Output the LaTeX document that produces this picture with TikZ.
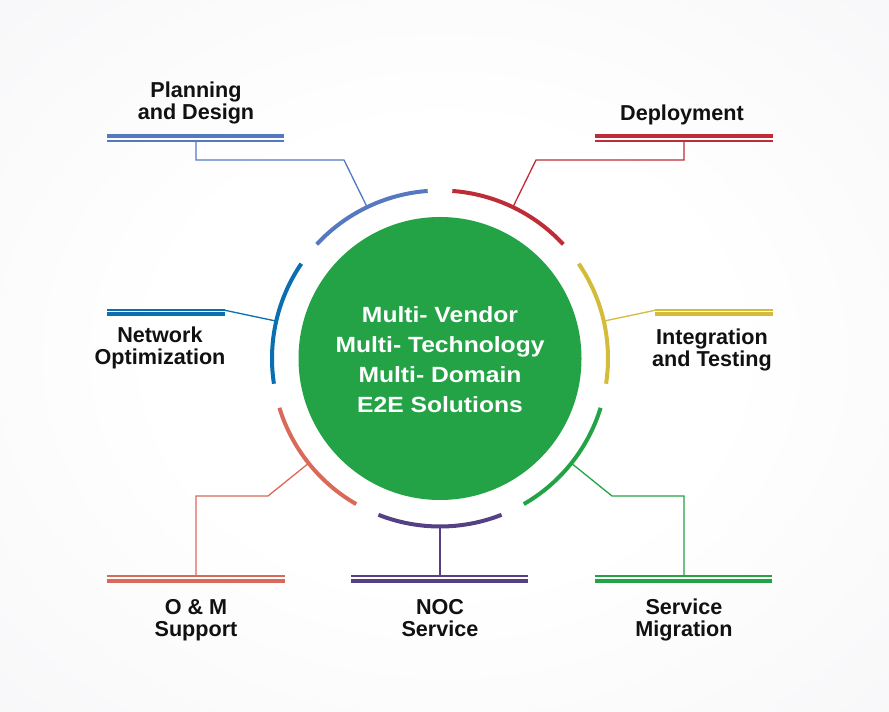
\documentclass[tikz,border=0pt]{standalone}
\usepackage{fontspec}
\setmainfont{Liberation Sans}
\newfontfamily\widefont[FakeStretch=1.12]{Liberation Sans}
\usetikzlibrary{calc}
\definecolor{bgedge}{RGB}{234,234,238}
\definecolor{bgmid}{RGB}{246,246,248}
\definecolor{cblue}{RGB}{84,121,190}
\definecolor{cred}{RGB}{190,45,55}
\definecolor{cyellow}{RGB}{212,188,58}
\definecolor{cnavy}{RGB}{10,110,176}
\definecolor{csalmon}{RGB}{217,106,90}
\definecolor{cpurple}{RGB}{84,64,130}
\definecolor{cgreen}{RGB}{35,163,69}
\definecolor{txt}{RGB}{17,17,17}
\pgfdeclareradialshading{bgshade}{\pgfpoint{0bp}{0bp}}{color(0bp)=(white); color(16bp)=(white); color(40bp)=(bgmid); color(72bp)=(bgedge)}
\begin{document}
\begin{tikzpicture}[x=1pt,y=1pt,
  arcseg/.style={line width=4pt},
  link/.style={line width=1.3pt},
  barthick/.style={line width=4pt},
  barthin/.style={line width=2pt},
  sidethick/.style={line width=3.6pt},
  sidethin/.style={line width=2.2pt},
  lbl/.style={font=\fontsize{21.6}{22.4}\selectfont\bfseries, text=txt, align=center, anchor=base, inner sep=0pt},
]
\useasboundingbox (0,0) rectangle (889,712);
\shade[shading=bgshade] (0,0) rectangle (889,712);

% central disc with the headline text
\coordinate (C) at (440,353.5);
\node[circle, fill=cgreen, minimum size=283pt, inner sep=0pt] (core) at (C) {};
\node[text=white, align=center, inner sep=0pt,
      font=\widefont\bfseries\fontsize{22}{30}\selectfont] (core-txt) at ($(C)+(0,-1.5)$)
  {Multi- Vendor\\Multi- Technology\\Multi- Domain\\E2E Solutions};

% seven ring segments around the disc
\foreach \nm/\ang/\col in {noc/270/cpurple, mig/321.43/cgreen, int/12.86/cyellow,
    dep/64.29/cred, plan/115.71/cblue, net/167.14/cnavy, om/218.57/csalmon}{
  \draw[arcseg,\col] ($(C)+(\ang-21.5:168)$) arc[start angle=\ang-21.5, end angle=\ang+21.5, radius=168];
  \coordinate (\nm-mid) at ($(C)+(\ang:168)$);
}

% Planning and Design
\coordinate (plan-bend) at (344,552);
\coordinate (plan-drop) at (196,552);
\coordinate (plan-bar) at (196,571);
\draw[link,cblue] (plan-mid) -- (plan-bend) -- (plan-drop) -- (plan-bar);
\draw[barthin,cblue] (107,571) -- (284,571);
\draw[barthick,cblue] (107,576) -- (284,576);
\node[lbl] (plan-lbl) at (196,592.5) {Planning\\and Design};

% Deployment
\coordinate (dep-bend) at (536,552);
\coordinate (dep-drop) at (684,552);
\coordinate (dep-bar) at (684,571);
\draw[link,cred] (dep-mid) -- (dep-bend) -- (dep-drop) -- (dep-bar);
\draw[barthin,cred] (595,571) -- (773,571);
\draw[barthick,cred] (595,576) -- (773,576);
\node[lbl] (dep-lbl) at (682,591) {Deployment};

% Network Optimization
\coordinate (net-bend) at (225,401.7);
\coordinate (net-end) at (107,401.7);
\draw[link,cnavy] (net-mid) -- (net-bend);
\draw[sidethin,cnavy] (net-bend) -- (net-end);
\draw[sidethick,cnavy] (107,397.8) -- (225,397.8);
\node[lbl] (net-lbl) at (160,347) {Network\\Optimization};

% Integration and Testing
\coordinate (int-bend) at (655,401.7);
\coordinate (int-end) at (773,401.7);
\draw[link,cyellow] (int-mid) -- (int-bend);
\draw[sidethin,cyellow] (int-bend) -- (int-end);
\draw[sidethick,cyellow] (655,397.8) -- (773,397.8);
\node[lbl] (int-lbl) at (712,345) {Integration\\and Testing};

% O & M Support
\coordinate (om-bend) at (268,216);
\coordinate (om-drop) at (196,216);
\coordinate (om-bar) at (196,136);
\draw[link,csalmon] (om-mid) -- (om-bend) -- (om-drop) -- (om-bar);
\draw[barthin,csalmon] (107,136) -- (285,136);
\draw[barthick,csalmon] (107,131.3) -- (285,131.3);
\node[lbl] (om-lbl) at (196,75) {O \& M\\Support};

% NOC Service
\coordinate (noc-bar) at (440,136);
\draw[link,cpurple] (noc-mid) -- (noc-bar);
\draw[barthin,cpurple] (351,136) -- (528,136);
\draw[barthick,cpurple] (351,131.3) -- (528,131.3);
\node[lbl] (noc-lbl) at (440,75) {NOC\\Service};

% Service Migration
\coordinate (mig-bend) at (612,216);
\coordinate (mig-drop) at (684,216);
\coordinate (mig-bar) at (684,136);
\draw[link,cgreen] (mig-mid) -- (mig-bend) -- (mig-drop) -- (mig-bar);
\draw[barthin,cgreen] (595,136) -- (772,136);
\draw[barthick,cgreen] (595,131.3) -- (772,131.3);
\node[lbl] (mig-lbl) at (684,75) {Service\\Migration};
\end{tikzpicture}
\end{document}
